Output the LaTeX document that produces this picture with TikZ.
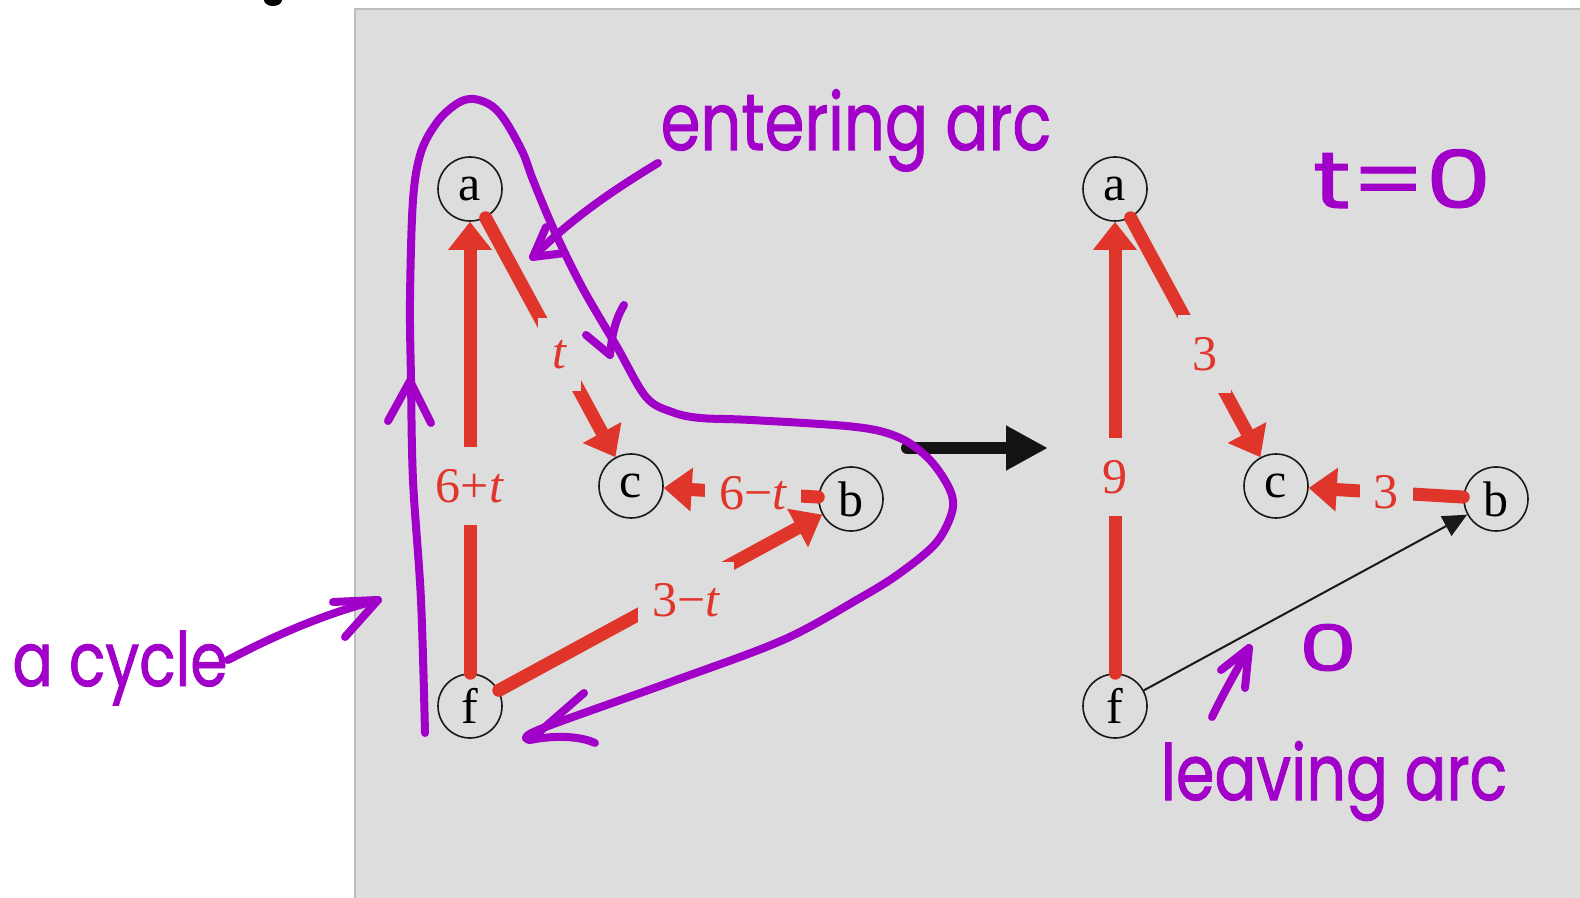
\documentclass[tikz,border=0pt]{standalone}
\usepackage{fontspec}
\setmainfont{Liberation Serif}
\newfontfamily\hand{Poppins}[FakeBold=1.3]
\usetikzlibrary{arrows.meta}
\definecolor{bg}{HTML}{DDDDDD}
\definecolor{frame}{HTML}{BDBDBD}
\definecolor{redE}{HTML}{E0352A}
\definecolor{pur}{HTML}{A100C9}
\begin{document}
\begin{tikzpicture}[x=0.5pt,y=-0.5pt,
  vtx/.style={circle,draw=black!90,line width=0.8pt,minimum size=32pt,inner sep=0pt,
    font=\fontsize{25}{25}\selectfont},
  redarc/.style={draw=redE,line width=6.5pt,line cap=round,
    -{Triangle[width=21pt,length=14pt]}},
  lab/.style={fill=bg,text=redE,inner xsep=7pt,inner ysep=11pt,
    font=\fontsize{25}{25}\selectfont},
  thinarc/.style={draw=black!90,line width=1pt,-{Triangle[width=11pt,length=12pt]}},
  bigarrow/.style={draw=black!92,line width=6pt,line cap=round,
    -{Triangle[width=21pt,length=21pt]}},
  pen/.style={draw=pur,line width=4pt,line cap=round,line join=round},
  handtext/.style={text=pur,inner sep=0pt,anchor=base},
]
\useasboundingbox (0,0) rectangle (1580,898);
% background panel
\fill[white] (0,0) rectangle (1580,898);
\fill[bg] (355,9) rectangle (1580,898);
\draw[frame,line width=1pt] (355,898) -- (355,9) -- (1580,9);
% black blot at top
\fill[black] (273,0) ellipse [x radius=9, y radius=6];

% ----- left graph -----
\node[vtx] (aL) at (470,189) {a};
\node[vtx] (cL) at (631,486) {c};
\node[vtx] (bL) at (851,499) {b};
\node[vtx] (fL) at (470,706) {f};
\draw[redarc] (fL) -- node[lab,pos=0.415] (l1) {6+\textit{t}} (aL);
\draw[redarc] (aL) -- node[lab,pos=0.57] (l2) {\textit{t}} (cL);
\draw[redarc] (bL) -- node[lab,pos=0.42] (l3) {6−\textit{t}} (cL);
\draw[redarc] (fL) -- node[lab,pos=0.58,yshift=-6pt] (l4) {3−\textit{t}} (bL);

% ----- big arrow -----
\coordinate (bs) at (907,448);
\coordinate (be) at (1048,448);
\draw[bigarrow] (bs) -- (be);

% ----- right graph -----
\node[vtx] (aR) at (1115,189) {a};
\node[vtx] (cR) at (1276,486) {c};
\node[vtx] (bR) at (1496,499) {b};
\node[vtx] (fR) at (1115,706) {f};
\draw[redarc] (fR) -- node[lab,pos=0.435] (r1) {9} (aR);
\draw[redarc] (aR) -- node[lab,pos=0.57] (r2) {3} (cR);
\draw[redarc] (bR) -- node[lab,pos=0.5] (r3) {3} (cR);
\draw[thinarc] (fR) -- (bR);

% ----- handwritten annotations -----
\draw[pen] plot[smooth,tension=0.55] coordinates {(425,733) (421,600) (413,480) (411,380) (410,300)
  (413,200) (421,152) (438,121) (458,103) (474,99) (492,106) (506,122) (523,153) (533,180)
  (554,230) (582,287) (617,347) (646,397) (672,412) (700,418) (751,420) (856,427) (900,438)
  (930,460) (950,490) (952,512) (936,543) (900,573) (860,598) (783,640) (668,683) (538,730) (530,740)};
\draw[pen] (388,421) -- (410,381) -- (431,423);
\draw[pen] (586,335) -- (610,355);
\draw[pen] (624,305) .. controls (615,320) and (612,335) .. (610,355);
\draw[pen] (584,693) -- (530,740) .. controls (555,735) and (580,736) .. (595,743);

% entering arc
\node[handtext,font=\hand\fontsize{32}{32}\selectfont] (ent) at (856,150) {\scalebox{1}[1.25]{entering arc}};
\draw[pen] (658,163) .. controls (610,192) and (570,220) .. (533,257);
\draw[pen] (546,227) -- (533,257) -- (565,253);

% t=0
\node[handtext,font=\hand\fontsize{40}{40}\selectfont] (teq) at (1402,208) {\scalebox{1.3}[1]{t=0}};

% a cycle
\node[handtext,font=\hand\fontsize{30}{30}\selectfont] (cyc) at (120,686) {\scalebox{1}[1.25]{a cycle}};
\draw[pen] (228,660) .. controls (270,638) and (320,615) .. (378,600);
\draw[pen] (333,602) -- (378,600) -- (345,637);

% leaving arc
\node[handtext,font=\hand\fontsize{31}{31}\selectfont] (lea) at (1334,800) {\scalebox{1}[1.25]{leaving arc}};
\node[handtext,font=\hand\fontsize{32}{32}\selectfont] (zero) at (1328,671) {\scalebox{1.45}[1]{0}};
\draw[pen] (1212,717) .. controls (1225,690) and (1238,668) .. (1249,648);
\draw[pen] (1221,670) -- (1249,648) -- (1245,688);
\end{tikzpicture}
\end{document}
